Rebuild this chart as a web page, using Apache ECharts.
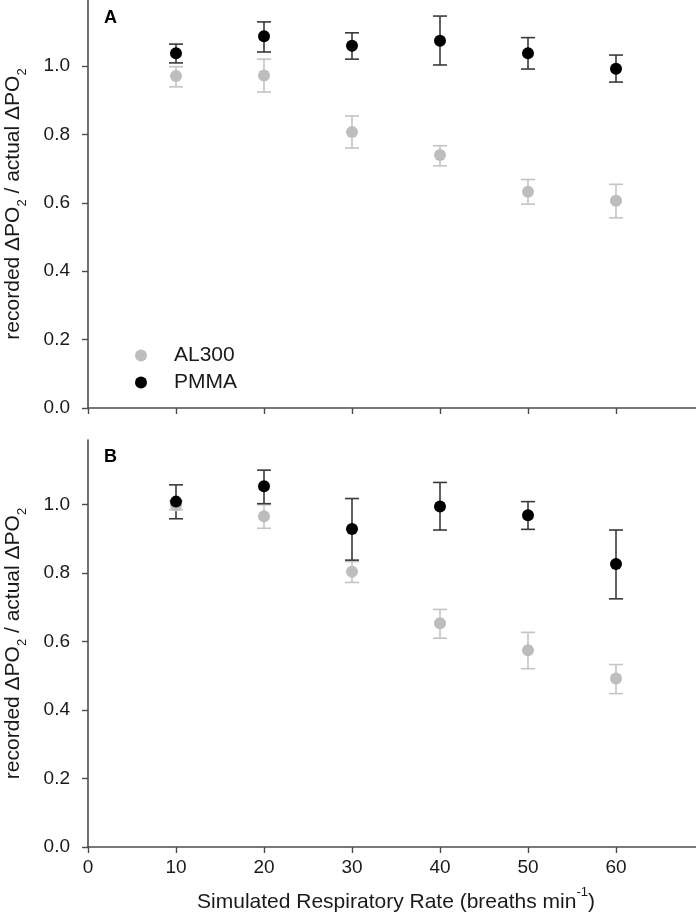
<!DOCTYPE html>
<html>
<head>
<meta charset="utf-8">
<script src="https://cdn.jsdelivr.net/npm/echarts@6/dist/echarts.min.js"></script>
<style>
html,body{margin:0;padding:0;background:#fff;}
#chart{width:696px;height:921px;}
</style>
</head>
<body>
<div id="chart"></div>
<script>
// ---- data ----
const rates = [10, 20, 30, 40, 50, 60];
// Panel A
const aAL300Mean = [0.971, 0.972, 0.807, 0.740, 0.632, 0.606];
const aAL300Low  = [0.939, 0.924, 0.760, 0.708, 0.596, 0.556];
const aAL300High = [0.998, 1.020, 0.854, 0.767, 0.668, 0.654];
const aPMMAMean  = [1.037, 1.087, 1.059, 1.074, 1.037, 0.992];
const aPMMALow   = [1.009, 1.041, 1.020, 1.003, 0.991, 0.953];
const aPMMAHigh  = [1.064, 1.129, 1.097, 1.146, 1.083, 1.032];
// Panel B
const bAL300Mean = [0.998, 0.966, 0.804, 0.654, 0.575, 0.492];
const bAL300Low  = [0.985, 0.931, 0.773, 0.610, 0.521, 0.448];
const bAL300High = [1.010, 1.000, 0.834, 0.694, 0.627, 0.533];
const bPMMAMean  = [1.009, 1.054, 0.929, 0.995, 0.969, 0.827];
const bPMMALow   = [0.959, 1.003, 0.838, 0.926, 0.928, 0.725];
const bPMMAHigh  = [1.058, 1.101, 1.018, 1.065, 1.009, 0.926];

const xTickValues = [0, 10, 20, 30, 40, 50, 60];
const yTickValues = [0, 0.2, 0.4, 0.6, 0.8, 1.0];

// ---- style ----
const FONT = 'Liberation Sans, Arial, sans-serif';
const GREY = '#bdbdbd';
const GREY_BAR = '#c4c4c4';
const BLACK = '#000000';
const BLACK_BAR = '#3a3a3a';
const AXIS_COLOR = '#4d4d4d';
const TEXT_COLOR = '#1a1a1a';

function pts(xs, ys) { return xs.map((x, i) => [x, ys[i]]); }
function bars(xs, lo, hi) { return xs.map((x, i) => [x, lo[i], hi[i]]); }

function errSeries(name, gridIdx, data, color) {
  return {
    type: 'custom',
    name: name,
    xAxisIndex: gridIdx,
    yAxisIndex: gridIdx,
    data: data,
    encode: { x: 0, y: [1, 2] },
    silent: true,
    renderItem: function (params, api) {
      const x = api.value(0);
      const p1 = api.coord([x, api.value(1)]);
      const p2 = api.coord([x, api.value(2)]);
      const hw = 7;
      const st = { stroke: color, lineWidth: 1.6 };
      return {
        type: 'group',
        children: [
          { type: 'line', shape: { x1: p1[0], y1: p1[1], x2: p2[0], y2: p2[1] }, style: st },
          { type: 'line', shape: { x1: p1[0] - hw, y1: p1[1], x2: p1[0] + hw, y2: p1[1] }, style: st },
          { type: 'line', shape: { x1: p2[0] - hw, y1: p2[1], x2: p2[0] + hw, y2: p2[1] }, style: st }
        ]
      };
    }
  };
}

function scatterSeries(name, gridIdx, data, color) {
  return {
    type: 'scatter',
    name: name,
    xAxisIndex: gridIdx,
    yAxisIndex: gridIdx,
    data: data,
    symbol: 'circle',
    symbolSize: 12,
    itemStyle: { color: color, opacity: 1 },
    silent: true
  };
}

const yName = 'recorded ΔPO{s|2} / actual ΔPO{s|2}';
const yNameStyle = {
  color: TEXT_COLOR,
  fontFamily: FONT,
  fontSize: 21,
  lineHeight: 32,
  rich: {
    s: { fontSize: 13, lineHeight: 19, verticalAlign: 'bottom', fontFamily: FONT, color: TEXT_COLOR }
  }
};

function yAxis(gridIdx, maxV) {
  return {
    type: 'value',
    gridIndex: gridIdx,
    min: 0,
    max: maxV,
    interval: 0.2,
    name: yName,
    nameLocation: 'middle',
    nameRotate: 90,
    nameGap: 59,
    nameTextStyle: yNameStyle,
    splitLine: { show: false },
    axisLine: { show: true, lineStyle: { color: AXIS_COLOR, width: 1.6 } },
    axisTick: { show: true, length: 6, inside: false, lineStyle: { color: AXIS_COLOR, width: 1.4 }, customValues: yTickValues },
    axisLabel: {
      color: TEXT_COLOR, fontFamily: FONT, fontSize: 19, margin: 18,
      customValues: yTickValues,
      formatter: v => v.toFixed(1)
    }
  };
}

function xAxis(gridIdx, showLabels) {
  const ax = {
    type: 'value',
    gridIndex: gridIdx,
    min: 0,
    max: 70,
    interval: 10,
    splitLine: { show: false },
    axisLine: { show: true, onZero: false, lineStyle: { color: AXIS_COLOR, width: 1.6 } },
    axisTick: { show: true, length: 6, inside: false, lineStyle: { color: AXIS_COLOR, width: 1.4 }, customValues: xTickValues },
    axisLabel: {
      show: showLabels, color: TEXT_COLOR, fontFamily: FONT, fontSize: 19, margin: 11,
      customValues: xTickValues
    }
  };
  if (showLabels) {
    ax.name = 'Simulated Respiratory Rate (breaths min{u|-1})';
    ax.nameLocation = 'middle';
    ax.nameGap = 39;
    ax.nameTextStyle = {
      color: TEXT_COLOR, fontFamily: FONT, fontSize: 21, lineHeight: 32,
      rich: { u: { fontSize: 13, lineHeight: 19, verticalAlign: 'top', fontFamily: FONT, color: TEXT_COLOR } }
    };
  }
  return ax;
}

const chart = echarts.init(document.getElementById('chart'), null, { renderer: 'canvas' });

const option = {
  backgroundColor: '#ffffff',
  animation: false,
  textStyle: { fontFamily: FONT },
  grid: [
    { left: 88, right: -8, top: 0, height: 408, containLabel: false, outerBoundsMode: 'none' },
    { left: 88, right: -8, top: 440, height: 407, containLabel: false, outerBoundsMode: 'none' }
  ],
  xAxis: [xAxis(0, false), xAxis(1, true)],
  yAxis: [yAxis(0, 408 / 342), yAxis(1, 407 / 342.3)],
  legend: {
    show: true,
    orient: 'vertical',
    left: 130,
    top: 340,
    itemWidth: 12,
    itemHeight: 12,
    itemGap: 6,
    selectedMode: false,
    data: [
      { name: 'AL300', icon: 'circle', itemStyle: { color: GREY } },
      { name: 'PMMA', icon: 'circle', itemStyle: { color: BLACK } }
    ],
    textStyle: { color: TEXT_COLOR, fontFamily: FONT, fontSize: 21, padding: [0, 0, 0, 22] }
  },
  graphic: [
    { type: 'text', left: 104, top: 9, style: { text: 'A', font: 'bold 18px ' + FONT, fill: '#000' } },
    { type: 'text', left: 104, top: 448, style: { text: 'B', font: 'bold 18px ' + FONT, fill: '#000' } }
  ],
  series: [
    errSeries('AL300', 0, bars(rates, aAL300Low, aAL300High), GREY_BAR),
    scatterSeries('AL300', 0, pts(rates, aAL300Mean), GREY),
    errSeries('PMMA', 0, bars(rates, aPMMALow, aPMMAHigh), BLACK_BAR),
    scatterSeries('PMMA', 0, pts(rates, aPMMAMean), BLACK),
    errSeries('AL300', 1, bars(rates, bAL300Low, bAL300High), GREY_BAR),
    scatterSeries('AL300', 1, pts(rates, bAL300Mean), GREY),
    errSeries('PMMA', 1, bars(rates, bPMMALow, bPMMAHigh), BLACK_BAR),
    scatterSeries('PMMA', 1, pts(rates, bPMMAMean), BLACK)
  ]
};
chart.setOption(option);
</script>
</body>
</html>
